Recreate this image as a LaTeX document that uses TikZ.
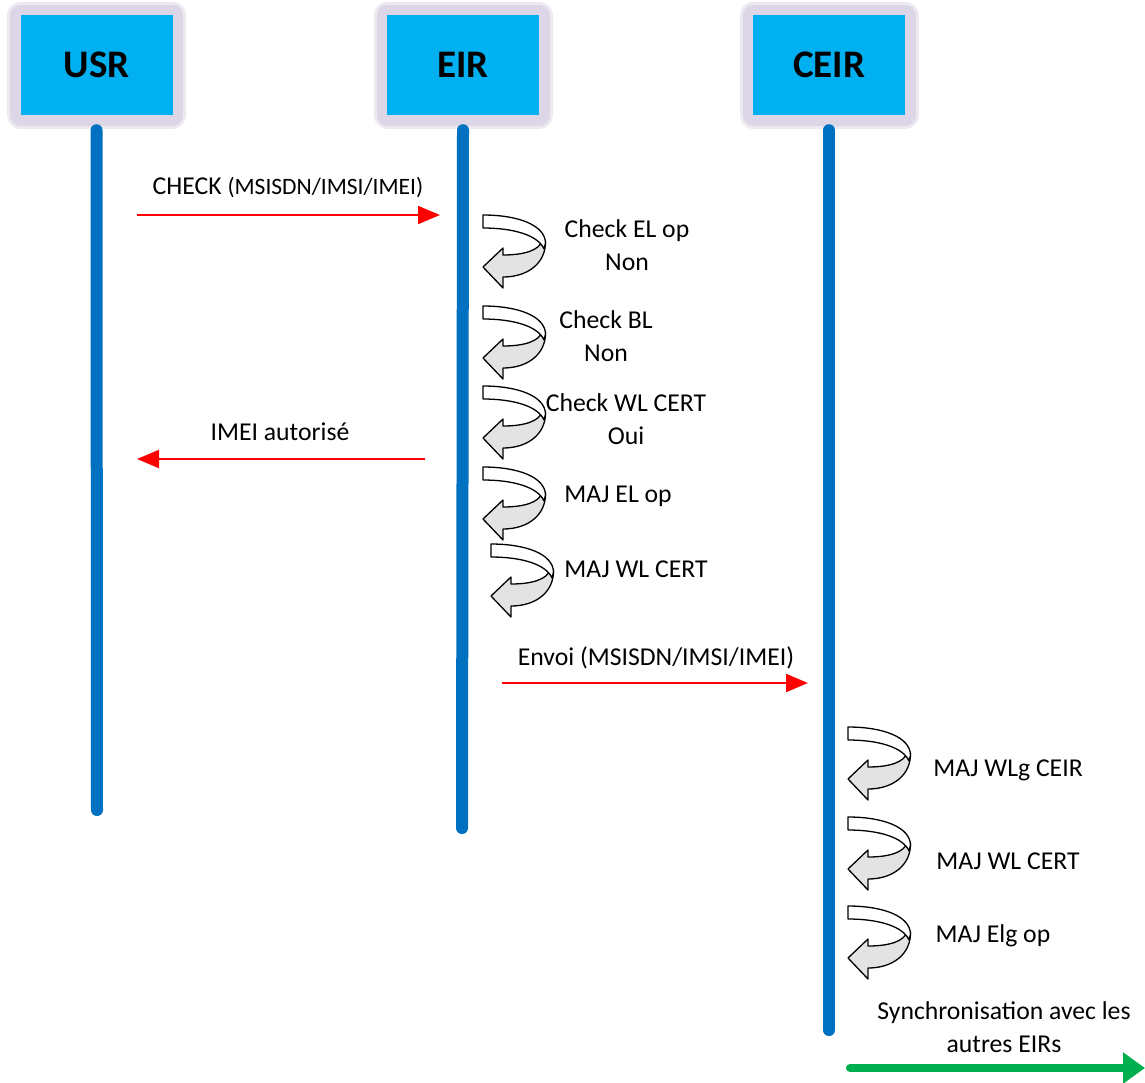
\documentclass[tikz,border=0pt]{standalone}
\usepackage{fontspec}
\setmainfont{Carlito}
\usetikzlibrary{arrows.meta,positioning}
\definecolor{hdrblue}{HTML}{00B0F0}
\definecolor{hdrglow}{HTML}{DCD6E6}
\definecolor{hdrhalo}{HTML}{ECE9F1}
\definecolor{lifeblue}{HTML}{0070C0}
\definecolor{syncgreen}{HTML}{00B050}
\definecolor{loopgray}{HTML}{E3E3E3}
\tikzset{
  Header/.style = {fill=hdrblue, minimum width=152pt, minimum height=100pt, inner sep=0pt,
    preaction={draw=hdrhalo, line width=27pt, line join=round},
    preaction={draw=hdrglow, line width=21pt, line join=round},
    font=\fontsize{39}{44}\selectfont\bfseries},
  Life/.style = {draw=lifeblue, line width=12pt, line cap=round},
  Msg/.style = {draw=red, line width=2pt, -{Triangle[length=22pt,width=18pt]}},
  Sync/.style = {draw=syncgreen, line width=8pt, line cap=round, -{Triangle[length=22pt,width=30pt]}},
  Txt/.style = {font=\fontsize{25.7}{33}\selectfont, align=center, inner sep=0pt},
  pics/selfloop/.style = {code={
    \draw[fill=loopgray, line width=1.3pt, line join=round]
      (62.5,26) .. controls (63,48) and (45,62) .. (20,62) -- (20,73) -- (0,52)
      -- (20,33) -- (20,40) .. controls (42,40) and (56,35) .. (59,26) -- cycle;
    \draw[fill=white, line width=1.3pt, line join=round]
      (0,0) .. controls (35,0) and (62,10) .. (62.5,28) -- (61,34)
      .. controls (55,20) and (30,13) .. (0,13) -- cycle;
  }}
}

\begin{document}
\begin{tikzpicture}[x=1pt, y=-1pt]
\useasboundingbox (0,0) rectangle (1145,1082);

% participants
\node[Header] (usr)  at (96.5,65) {USR};
\node[Header] (eir)  at (463,65)  {EIR};
\node[Header] (ceir) at (829,65)  {CEIR};

\coordinate (usrend)  at (97,810);
\coordinate (eirend)  at (462,828);
\coordinate (ceirend) at (829,1030);
\draw[Life] ([yshift=-15pt]usr.south)  -- (usrend);
\draw[Life] ([yshift=-15pt]eir.south)  -- (eirend);
\draw[Life] ([yshift=-15pt]ceir.south) -- (ceirend);

% messages
\coordinate (checkA) at (137,215);
\coordinate (checkB) at (440,215);
\draw[Msg] (checkA) -- (checkB);
\node[Txt] (checktxt) at (288,188) {CHECK {\fontsize{23.5}{28}\selectfont(MSISDN/IMSI/IMEI)}};

\coordinate (okA) at (425,459);
\coordinate (okB) at (137,459);
\draw[Msg] (okA) -- (okB);
\node[Txt] (oktxt) at (280,432) {IMEI autorisé};

\coordinate (envA) at (502,683);
\coordinate (envB) at (808,683);
\draw[Msg] (envA) -- (envB);
\node[Txt] (envtxt) at (656,658) {Envoi (MSISDN/IMSI/IMEI)};

% checks on the EIR
\pic at (483,215) {selfloop};
\node[Txt] (chkel) at (627,245) {Check EL op\\Non};
\pic at (483,306) {selfloop};
\node[Txt] (chkbl) at (606,336) {Check BL\\Non};
\pic at (483,386) {selfloop};
\node[Txt] (chkwl) at (626,419) {Check WL CERT\\Oui};
\pic at (483,467) {selfloop};
\node[Txt] (majel) at (618,496) {MAJ EL op};
\pic at (491,544) {selfloop};
\node[Txt] (majwl) at (636,569) {MAJ WL CERT};

% updates on the CEIR
\pic at (848,727) {selfloop};
\node[Txt] (majwlg) at (1008,770) {MAJ WLg CEIR};
\pic at (848,817) {selfloop};
\node[Txt] (majcert) at (1008,861) {MAJ WL CERT};
\pic at (848,906) {selfloop};
\node[Txt] (majelg) at (993,936) {MAJ Elg op};

\node[Txt] (synctxt) at (1004,1027) {Synchronisation avec les\\autres EIRs};
\coordinate (syncA) at (850,1068);
\coordinate (syncB) at (1145,1068);
\draw[Sync] (syncA) -- (syncB);
\end{tikzpicture}
\end{document}
